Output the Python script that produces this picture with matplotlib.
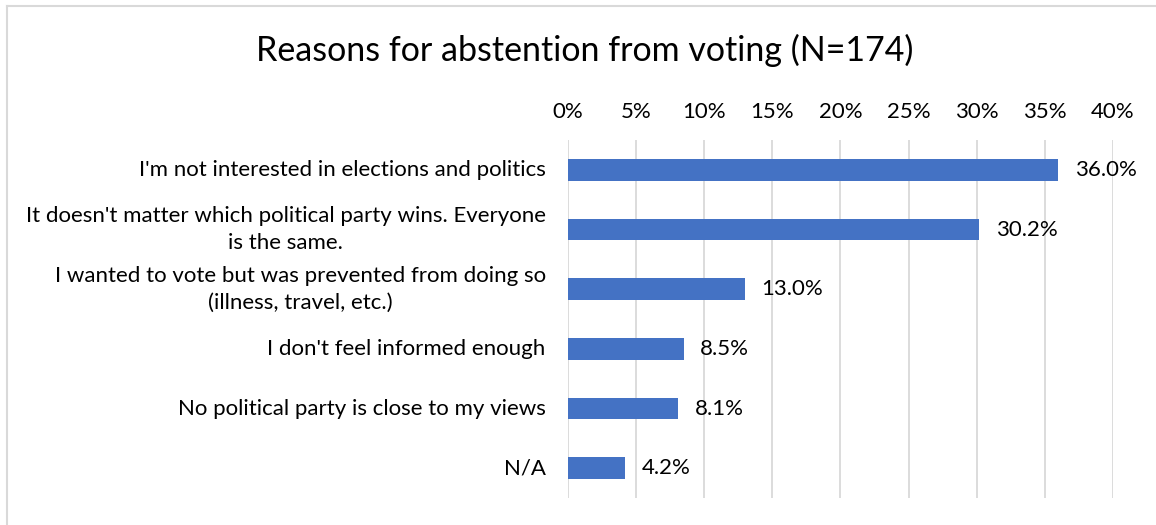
import matplotlib
matplotlib.use("Agg")
import matplotlib.pyplot as plt
import matplotlib.transforms as mtransforms
from matplotlib.lines import Line2D
from matplotlib.ticker import FuncFormatter

plt.rcParams["font.family"] = ["Lato", "DejaVu Sans"]

categories = [
    "I'm not interested in elections and politics",
    "It doesn't matter which political party wins. Everyone\nis the same.",
    "I wanted to vote but was prevented from doing so\n(illness, travel, etc.)",
    "I don't feel informed enough",
    "No political party is close to my views",
    "N/A",
]
values = [36.0, 30.2, 13.0, 8.5, 8.1, 4.2]
ticks = [0, 5, 10, 15, 20, 25, 30, 35, 40]
title = "Reasons for abstention from voting (N=174)"

bar_color = "#4472C4"
grid_color = "#D9D9D9"

fig = plt.figure(figsize=(11.56, 5.25), dpi=100)
ax = fig.add_axes([0.4913, 0.0514, 0.4715, 0.6819])

y = list(range(len(categories)))
ax.barh(y, values, height=0.36, color=bar_color, zorder=3)
ax.set_ylim(len(categories) - 0.5, -0.5)
ax.set_xlim(0, 40)
ax.set_xticks(ticks)
ax.xaxis.set_major_formatter(FuncFormatter(lambda v, _: f"{v:.0f}%"))
ax.xaxis.tick_top()
ax.tick_params(axis="x", length=0, pad=13, labelsize=16)
ax.set_yticks(y)
ax.set_yticklabels([])
ax.tick_params(axis="y", length=0)
ax.grid(axis="x", color=grid_color, lw=1.3, zorder=0)
for s in ax.spines.values():
    s.set_visible(False)

# category labels: right-aligned block, wrapped lines centred (Excel style)
lab_tr = ax.get_yaxis_transform() + mtransforms.ScaledTranslation(-16 / 72, 0, fig.dpi_scale_trans)
for yi, cat in zip(y, categories):
    ax.text(0, yi, cat, transform=lab_tr, ha="right", va="center",
            multialignment="center", linespacing=1.45, fontsize=16)

for yi, v in zip(y, values):
    ax.text(v + 1.2, yi, f"{v:.1f}%", va="center", ha="left", fontsize=16)

fig.text(0.506, 0.903, title, ha="center", va="center", fontsize=24.5)

# Excel-style chart frame: only the top and left edges are visible
fig.add_artist(Line2D([0.006, 1.0], [0.988, 0.988], transform=fig.transFigure,
                      color="#D9D9D9", lw=1.5))
fig.add_artist(Line2D([0.006, 0.006], [0.0, 0.988], transform=fig.transFigure,
                      color="#D9D9D9", lw=1.5))

fig.savefig("out.png", dpi=100)
